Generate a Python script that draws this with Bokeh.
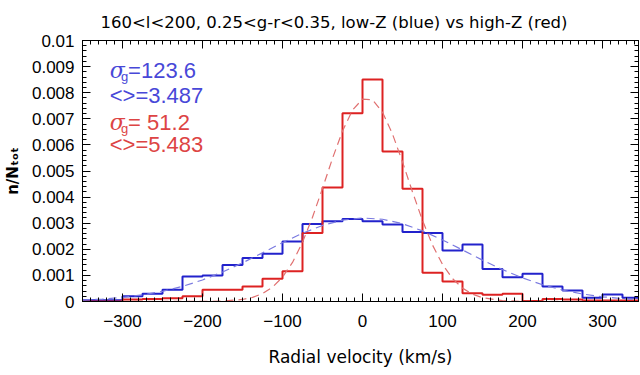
from bokeh.plotting import figure
from bokeh.models import (Label, LinearAxis, SingleIntervalTicker, CustomJSTickFormatter, Range1d)
from bokeh.embed import file_html
from bokeh.resources import INLINE

# ---------------- data ----------------
bin_edges = [-350, -325, -300, -275, -250, -225, -200, -175, -150, -125, -100, -75, -50, -25,
             0, 25, 50, 75, 100, 125, 150, 175, 200, 225, 250, 275, 300, 325, 350]

low_z_hist = [0.00005, 0.00005, 0.00020, 0.00030, 0.00045, 0.00096, 0.00100, 0.00140,
              0.00167, 0.00183, 0.00230, 0.00297, 0.00307, 0.00316, 0.00307, 0.00295,
              0.00266, 0.00262, 0.00195, 0.00218, 0.00125, 0.00093, 0.00106, 0.00057,
              0.00042, 0.00014, 0.00027, 0.00014]

high_z_hist = [0.0, 0.0, 0.00008, 0.00010, 0.00012, 0.00020, 0.00045, 0.00045,
               0.00057, 0.00087, 0.00116, 0.00262, 0.00437, 0.00721, 0.00851, 0.00575,
               0.00432, 0.00110, 0.00077, 0.00032, 0.00026, 0.00030, 0.00002, 0.00010,
               0.00008, 0.00004, 0.00004, 0.00004]

# dashed fit curves
low_fit_v = [-350, -325, -300, -275, -250, -225, -200, -175, -150, -125, -100, -75, -50, -25,
             0, 25, 50, 75, 100, 125, 150, 175, 200, 225, 250, 275, 300, 325, 350]
low_fit_n = [0.000054, 0.000094, 0.000157, 0.000253, 0.000391, 0.000580, 0.000825, 0.001128,
             0.001480, 0.001864, 0.002254, 0.002616, 0.002914, 0.003116, 0.003199, 0.003152,
             0.002981, 0.002707, 0.002359, 0.001974, 0.001585, 0.001222, 0.000904, 0.000642,
             0.000438, 0.000287, 0.000180, 0.000109, 0.000063]

high_fit_v = [-350, -200, -175, -150, -137.5, -125, -112.5, -100, -87.5, -75, -62.5, -50, -37.5,
              -25, -12.5, 0, 12.5, 25, 37.5, 50, 62.5, 75, 87.5, 100, 112.5, 125, 137.5, 150,
              175, 200, 350]
high_fit_n = [0.0, 0.000003, 0.000016, 0.000078, 0.000158, 0.000303, 0.000548, 0.000934,
              0.001498, 0.002267, 0.003229, 0.004335, 0.005482, 0.006532, 0.007332, 0.007755,
              0.007727, 0.007255, 0.006416, 0.005347, 0.004197, 0.003104, 0.002163, 0.001420,
              0.000878, 0.000512, 0.000281, 0.000145, 0.000033, 0.000006, 0.0]

title_text = "160<l<200, 0.25<g-r<0.35, low-Z (blue) vs high-Z (red)"
x_label = "Radial velocity (km/s)"
y_label = "n/Nₜₒₜ"
low_sigma = "123.6"
low_mean = "3.487"
high_sigma = " 51.2"
high_mean = "5.483"

BLUE = "#2222cc"
RED = "#dd2222"
BLUE_T = "#4848d8"
RED_T = "#dd4444"
FONT = "Liberation Sans"

p = figure(width=640, height=375, output_backend="svg", toolbar_location=None,
           x_range=Range1d(-350, 345), y_range=Range1d(0, 0.01),
           min_border_left=82, min_border_right=2, min_border_top=40, min_border_bottom=74)
p.title.text = title_text
p.title.text_font = "DejaVu Sans"
p.title.text_font_size = "16.5px"
p.title.text_font_style = "normal"
p.title.text_color = "black"
p.title.align = "left"
p.title.offset = 18
p.title.standoff = 18
p.xgrid.visible = False
p.ygrid.visible = False
p.outline_line_color = "black"
p.outline_line_width = 1
p.background_fill_color = "white"
p.border_fill_color = "white"

# histograms
p.step(bin_edges, low_z_hist + [low_z_hist[-1]], mode="after", line_color=BLUE, line_width=2)
p.step(bin_edges, high_z_hist + [high_z_hist[-1]], mode="after", line_color=RED, line_width=2)

# fits
p.line(low_fit_v, low_fit_n, line_color="#7a7ae0", line_width=1.2, line_dash="8 5")
p.line(high_fit_v, high_fit_n, line_color="#e07070", line_width=1.2, line_dash="8 5")

# axes
xfmt = CustomJSTickFormatter(code="return (tick < 0 ? '\u2212' : '') + Math.abs(Math.round(tick)).toString();")
yfmt = CustomJSTickFormatter(code="if (Math.abs(tick) < 1e-9) return '0'; return parseFloat(tick.toFixed(4)).toString();")
blank = CustomJSTickFormatter(code="return '';")

def style(ax, labels=True):
    ax.major_tick_in = 8
    ax.major_tick_out = 0
    ax.minor_tick_in = 4
    ax.minor_tick_out = 0
    ax.axis_line_color = "black"
    ax.major_tick_line_color = "black"
    ax.minor_tick_line_color = "black"
    ax.major_label_text_font = FONT
    ax.major_label_text_font_size = "17px"
    ax.major_label_text_color = "black"
    if not labels:
        ax.major_label_standoff = 0

xa = p.xaxis[0]
xa.ticker = SingleIntervalTicker(interval=100, num_minor_ticks=10)
xa.formatter = xfmt
style(xa)
xa.major_label_standoff = 13
xa.axis_label = x_label
xa.axis_label_text_font = "DejaVu Sans"
xa.axis_label_text_font_size = "17px"
xa.axis_label_text_font_style = "normal"
xa.axis_label_text_color = "black"
xa.axis_label_standoff = 17

ya = p.yaxis[0]
ya.ticker = SingleIntervalTicker(interval=0.001, num_minor_ticks=5)
ya.formatter = yfmt
style(ya)
ya.major_label_standoff = 8
ya.axis_label = y_label
ya.axis_label_text_font = "DejaVu Sans"
ya.axis_label_text_font_size = "15px"
ya.axis_label_text_font_style = "bold"
ya.axis_label_text_color = "black"
ya.axis_label_standoff = 7

top = LinearAxis(ticker=SingleIntervalTicker(interval=100, num_minor_ticks=10), formatter=blank)
style(top, labels=False)
p.add_layout(top, "above")
right = LinearAxis(ticker=SingleIntervalTicker(interval=0.001, num_minor_ticks=5), formatter=blank)
style(right, labels=False)
p.add_layout(right, "right")

# annotations
def lab(x, y, t, c, size="22px", style_="normal", font=FONT):
    p.add_layout(Label(x=x, y=y, text=t, text_color=c, text_font=font, text_font_size=size,
                       text_font_style=style_, text_baseline="middle", text_align="left"))

lab(-316, 0.00885, "σ", BLUE_T, "22px", "italic", "DejaVu Serif")
lab(-302, 0.00863, "g", BLUE_T, "13px")
lab(-293, 0.00885, "=" + low_sigma, BLUE_T)
lab(-316, 0.00790, "<>=" + low_mean, BLUE_T)

lab(-316, 0.00686, "σ", RED_T, "22px", "italic", "DejaVu Serif")
lab(-302, 0.00664, "g", RED_T, "13px")
lab(-293, 0.00686, "=" + high_sigma, RED_T)
lab(-316, 0.00601, "<>=" + high_mean, RED_T)

open("out.html", "w").write(file_html(p, INLINE))
